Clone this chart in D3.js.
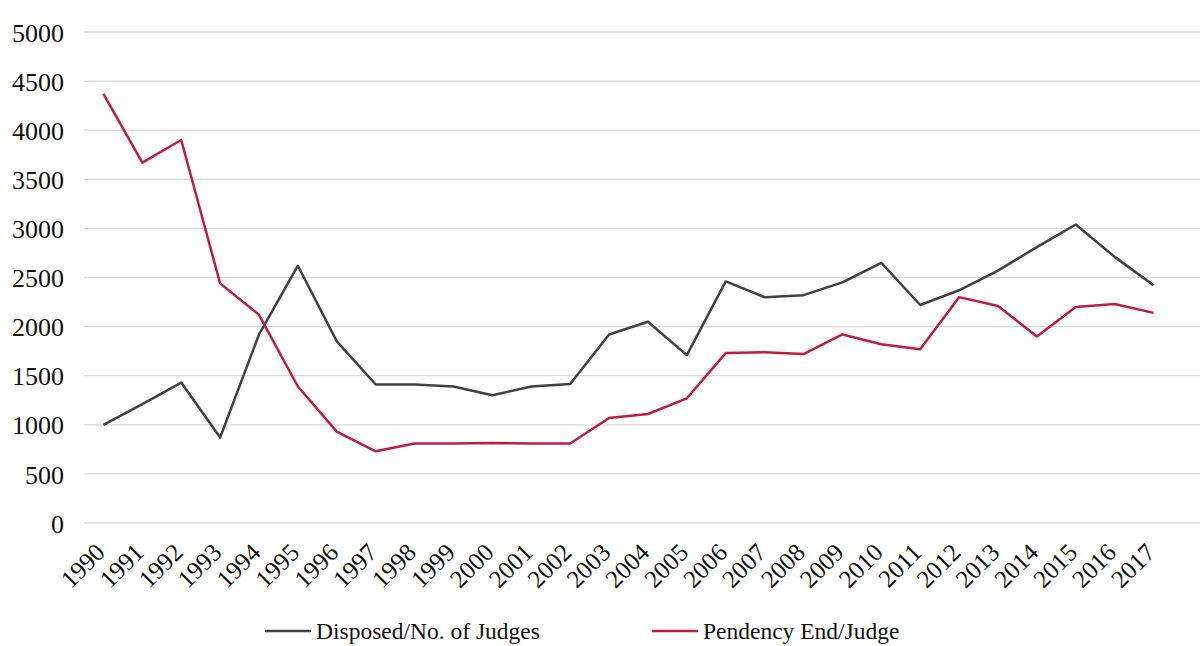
<!DOCTYPE html>
<html>
<head>
<meta charset="utf-8">
<script src="https://cdn.jsdelivr.net/npm/d3@7"></script>
<style>
  body { margin: 0; background: #fff; }
  svg { display: block; }
</style>
</head>
<body>
<svg width="1200" height="646" font-family="Liberation Serif"></svg>
<script>
var years = ["1990","1991","1992","1993","1994","1995","1996","1997","1998","1999",
             "2000","2001","2002","2003","2004","2005","2006","2007","2008","2009",
             "2010","2011","2012","2013","2014","2015","2016","2017"];

var disposedPerJudge = [1000, 1210, 1430, 870, 1920, 2620, 1850, 1410, 1410, 1390,
                        1300, 1390, 1415, 1920, 2050, 1710, 2460, 2300, 2320, 2450,
                        2650, 2220, 2370, 2570, 2810, 3040, 2710, 2420];

var pendencyPerJudge = [4370, 3670, 3900, 2440, 2120, 1390, 930, 730, 810, 810,
                        815, 810, 810, 1070, 1110, 1270, 1730, 1740, 1720, 1920,
                        1820, 1770, 2300, 2210, 1900, 2200, 2230, 2140];

var yTicks = [0, 500, 1000, 1500, 2000, 2500, 3000, 3500, 4000, 4500, 5000];

var seriesNames = ["Disposed/No. of Judges", "Pendency End/Judge"];
var seriesColors = ["#404040", "#be1e3c"];

var FONT = "Liberation Serif";

var svg = d3.select("svg"),
    width = +svg.attr("width"),
    height = +svg.attr("height");

var margin = {left: 84, right: 27, top: 32, bottom: 123};

var x = d3.scaleBand()
    .domain(years)
    .range([margin.left, width - margin.right]);

var y = d3.scaleLinear()
    .domain([0, 5000])
    .range([height - margin.bottom, margin.top]);

// gridlines
svg.append("g")
    .attr("class", "grid")
  .selectAll("line")
  .data(yTicks)
  .enter().append("line")
    .attr("x1", margin.left)
    .attr("x2", width)
    .attr("y1", function(d) { return y(d); })
    .attr("y2", function(d) { return y(d); })
    .attr("stroke", "#d9d9d9")
    .attr("stroke-width", 1.3);

// y axis labels
var yAxis = d3.axisLeft(y).tickValues(yTicks).tickFormat(d3.format("d"))
    .tickSize(0).tickPadding(20);
svg.append("g")
    .attr("transform", "translate(" + margin.left + ",0)")
    .call(yAxis)
    .attr("font-family", FONT)
    .call(function(g) { g.select(".domain").remove(); })
    .selectAll("text")
      .attr("font-size", 26)
      .attr("fill", "#111")
      .attr("dy", "0.35em");

// x axis labels, rotated
var xAxis = d3.axisBottom(x).tickSize(0).tickPadding(0);
svg.append("g")
    .attr("transform", "translate(0," + y(0) + ")")
    .call(xAxis)
    .attr("font-family", FONT)
    .call(function(g) { g.select(".domain").remove(); })
    .selectAll("text")
      .attr("font-size", 25)
      .attr("fill", "#111")
      .attr("text-anchor", "end")
      .attr("dy", null)
      .attr("transform", "translate(3,31) rotate(-45)");

var line = d3.line()
    .x(function(d, i) { return x(years[i]) + x.bandwidth() / 2; })
    .y(function(d) { return y(d); });

var allSeries = [disposedPerJudge, pendencyPerJudge];

svg.append("g")
    .attr("class", "lines")
  .selectAll("path")
  .data(allSeries)
  .enter().append("path")
    .attr("d", line)
    .attr("fill", "none")
    .attr("stroke", function(d, i) { return seriesColors[i]; })
    .attr("stroke-width", 2.5)
    .attr("stroke-linejoin", "round");

// legend
var legendX = [265, 652];
var legend = svg.append("g")
    .attr("class", "legend")
  .selectAll("g")
  .data(seriesNames)
  .enter().append("g")
    .attr("transform", function(d, i) { return "translate(" + legendX[i] + ",631)"; });

legend.append("line")
    .attr("x1", 0)
    .attr("x2", 46)
    .attr("stroke", function(d, i) { return seriesColors[i]; })
    .attr("stroke-width", 2.5);

legend.append("text")
    .attr("x", 51)
    .attr("dy", "0.33em")
    .attr("font-size", 23.5)
    .attr("fill", "#111")
    .text(function(d) { return d; });
</script>
</body>
</html>
